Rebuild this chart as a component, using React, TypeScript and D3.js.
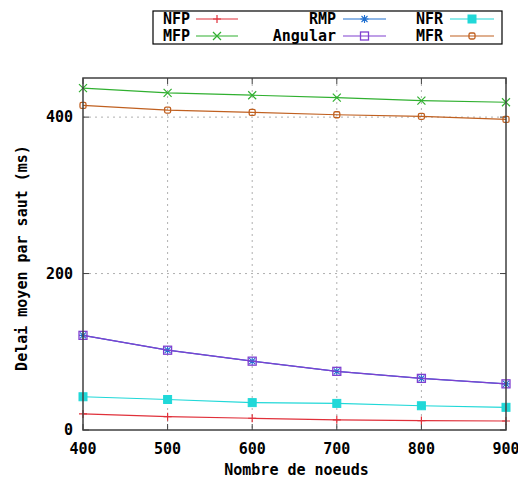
import React from "react";
import * as d3 from "d3";

const xValues = [400, 500, 600, 700, 800, 900];
const nfp = [20.5, 17, 15, 13, 12, 11.5];
const mfp = [437, 431, 428, 425, 421, 419];
const rmp = [121, 102, 88, 75, 66, 59];
const angular = [121, 102, 88, 75, 66, 59];
const nfr = [42.5, 39, 35, 34, 31, 29];
const mfr = [415, 409, 406, 403, 401, 397];
const xTicks = [400, 500, 600, 700, 800, 900];
const yTicks = [0, 200, 400];

type Marker = "plus" | "x" | "star" | "square" | "filled" | "circle";
const series: { name: string; values: number[]; color: string; marker: Marker }[] = [
  { name: "NFP", values: nfp, color: "#e0303a", marker: "plus" },
  { name: "MFP", values: mfp, color: "#30b030", marker: "x" },
  { name: "RMP", values: rmp, color: "#2070d0", marker: "star" },
  { name: "Angular", values: angular, color: "#8040d0", marker: "square" },
  { name: "NFR", values: nfr, color: "#20d8d8", marker: "filled" },
  { name: "MFR", values: mfr, color: "#c06020", marker: "circle" },
];

const W = 518, H = 483;
const M = { left: 83, right: 506, top: 78, bottom: 430 };
const font = "'DejaVu Sans Mono', monospace";

function MarkerShape({ type, x, y, color }: { type: Marker; x: number; y: number; color: string }) {
  const s = 4;
  switch (type) {
    case "plus":
      return <path d={`M${x - s},${y}H${x + s}M${x},${y - s}V${y + s}`} stroke={color} strokeWidth={1.2} />;
    case "x":
      return <path d={`M${x - s},${y - s}L${x + s},${y + s}M${x - s},${y + s}L${x + s},${y - s}`} stroke={color} strokeWidth={1.2} />;
    case "star":
      return <path d={`M${x - s},${y}H${x + s}M${x},${y - s}V${y + s}M${x - 3},${y - 3}L${x + 3},${y + 3}M${x - 3},${y + 3}L${x + 3},${y - 3}`} stroke={color} strokeWidth={1.1} />;
    case "square":
      return <rect x={x - s} y={y - s} width={2 * s} height={2 * s} fill="none" stroke={color} strokeWidth={1.3} />;
    case "filled":
      return <rect x={x - s} y={y - s} width={2 * s} height={2 * s} fill={color} stroke={color} />;
    case "circle":
      return <rect x={x - 3} y={y - 3} width={6} height={6} rx={1.5} fill="none" stroke={color} strokeWidth={1.3} />;
  }
}

export default function App() {
  const x = d3.scaleLinear().domain([400, 900]).range([M.left, M.right]);
  const y = d3.scaleLinear().domain([0, 450]).range([M.bottom, M.top]);
  const line = d3.line<number>().x((_, i) => x(xValues[i])).y((d) => y(d));

  const legendCols = [
    { textX: 190, lineX0: 196, lineX1: 238 },
    { textX: 336, lineX0: 343, lineX1: 386 },
    { textX: 443, lineX0: 450, lineX1: 494 },
  ];
  const legendRows = [19, 36];
  const legendOrder = [
    [0, 0, 0], [1, 0, 1], [2, 1, 0], [3, 1, 1], [4, 2, 0], [5, 2, 1],
  ];

  return (
    <svg width={W} height={H} style={{ position: "absolute", left: 0, top: 0, background: "#fff" }} fontFamily={font}>
      <rect width={W} height={H} fill="#fff" />
      {/* grid */}
      {xTicks.slice(1, -1).map((t) => (
        <line key={"gx" + t} x1={x(t)} x2={x(t)} y1={M.top} y2={M.bottom} stroke="#b0b0b0" strokeDasharray="2,4" />
      ))}
      {yTicks.slice(1).map((t) => (
        <line key={"gy" + t} x1={M.left} x2={M.right} y1={y(t)} y2={y(t)} stroke="#b0b0b0" strokeDasharray="2,4" />
      ))}
      {/* ticks */}
      {xTicks.map((t) => (
        <g key={"tx" + t}>
          <line x1={x(t)} x2={x(t)} y1={M.bottom} y2={M.bottom - 6} stroke="#404040" />
          <line x1={x(t)} x2={x(t)} y1={M.top} y2={M.top + 6} stroke="#404040" />
          <text x={x(t)} y={M.bottom + 24} textAnchor="middle" fontSize={15} fontWeight="bold" fill="#000">{t}</text>
        </g>
      ))}
      {yTicks.map((t) => (
        <g key={"ty" + t}>
          <line x1={M.left} x2={M.left + 6} y1={y(t)} y2={y(t)} stroke="#404040" />
          <line x1={M.right} x2={M.right - 6} y1={y(t)} y2={y(t)} stroke="#404040" />
          <text x={M.left - 10} y={y(t) + 5} textAnchor="end" fontSize={15} fontWeight="bold" fill="#000">{t}</text>
        </g>
      ))}
      {/* series */}
      {series.map((s) => (
        <g key={s.name}>
          <path d={line(s.values) || ""} fill="none" stroke={s.color} strokeWidth={1.2} />
          {s.values.map((v, i) => (
            <MarkerShape key={i} type={s.marker} x={x(xValues[i])} y={y(v)} color={s.color} />
          ))}
        </g>
      ))}
      {/* border */}
      <rect x={M.left} y={M.top} width={M.right - M.left} height={M.bottom - M.top} fill="none" stroke="#404040" strokeWidth={1.5} />
      {/* axis labels */}
      <text x={(M.left + M.right) / 2 + 2} y={475} textAnchor="middle" fontSize={15} fontWeight="bold" fill="#000">Nombre de noeuds</text>
      <text transform={`translate(27,258) rotate(-90)`} textAnchor="middle" fontSize={15} fontWeight="bold" fill="#000">Delai moyen par saut (ms)</text>
      {/* legend */}
      <rect x={153} y={11} width={349} height={33} fill="#fff" stroke="#000" strokeWidth={1.2} />
      {legendOrder.map(([si, c, r]) => {
        const s = series[si];
        const col = legendCols[c];
        const ly = legendRows[r];
        return (
          <g key={"lg" + s.name}>
            <text x={col.textX} y={ly + 5} textAnchor="end" fontSize={15} fontWeight="bold" fill="#000">{s.name}</text>
            <line x1={col.lineX0} x2={col.lineX1} y1={ly} y2={ly} stroke={s.color} strokeWidth={1.2} />
            <MarkerShape type={s.marker} x={(col.lineX0 + col.lineX1) / 2} y={ly} color={s.color} />
          </g>
        );
      })}
    </svg>
  );
}
